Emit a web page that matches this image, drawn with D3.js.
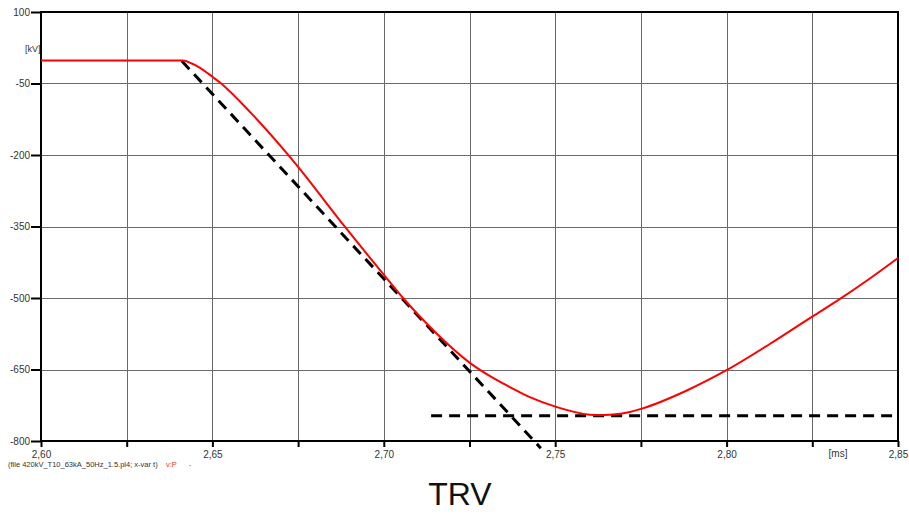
<!DOCTYPE html>
<html>
<head>
<meta charset="utf-8">
<script src="https://cdn.jsdelivr.net/npm/d3@7"></script>
<style>
  body { margin: 0; background: #fff; }
  svg { display: block; font-family: "Liberation Sans", Arial, sans-serif; }
</style>
</head>
<body>
<div id="chart"></div>
<script>
// ===== TRV PLOT =====

// time axis [ms] and voltage [kV]
const xTicks = [2.600, 2.625, 2.650, 2.675, 2.700, 2.725, 2.750, 2.775, 2.800, 2.825, 2.850];
const xLabels = ['2,60', '', '2,65', '', '2,70', '', '2,75', '', '2,80', '', '2,85'];
const yTicks = [100, -50, -200, -350, -500, -650, -800];

// v:P trace
const trvTime = [2.6000, 2.6200, 2.6414, 2.6440, 2.6464, 2.6502, 2.6522, 2.6610, 2.6726, 2.6750,
  2.6887, 2.7001, 2.7056, 2.7135, 2.7251, 2.7310, 2.7368, 2.7426, 2.7505, 2.7601, 2.7631,
  2.7660, 2.7718, 2.7753, 2.7884, 2.8001, 2.8127, 2.8252, 2.8322, 2.8418, 2.8500];
const trvVolt = [-2, -2, -2, -8, -17, -37, -48, -110, -204, -225,
  -351, -452, -500, -561, -636, -664, -687, -708, -729, -745, -746,
  -745, -739, -732, -694, -651, -596, -538, -506, -459, -416];

// dashed construction lines
const tangentTime = [2.6411, 2.7458];
const tangentVolt = [-3, -815];
const peakTime = [2.7138, 2.8500];
const peakVolt = [-747, -747];

const W = 909, H = 519;
const margin = { left: 41, top: 12, right: 11, bottom: 78 };
const plotW = W - margin.left - margin.right;
const plotH = H - margin.top - margin.bottom;

const svg = d3.select('#chart').append('svg')
  .attr('width', W)
  .attr('height', H);

const x = d3.scaleLinear().domain([2.60, 2.85]).range([margin.left, margin.left + plotW]);
const y = d3.scaleLinear().domain([-800, 100]).range([margin.top + plotH, margin.top]);

// grid
const grid = svg.append('g');
grid.selectAll('line.v')
  .data(xTicks.slice(1, -1))
  .join('line')
  .attr('x1', d => Math.round(x(d)) + 0.5).attr('x2', d => Math.round(x(d)) + 0.5)
  .attr('y1', y(100)).attr('y2', y(-800))
  .attr('stroke', '#6a6a6a').attr('stroke-width', 1);
grid.selectAll('line.h')
  .data(yTicks.slice(1, -1))
  .join('line')
  .attr('x1', x(2.60)).attr('x2', x(2.85))
  .attr('y1', d => Math.round(y(d)) + 0.5).attr('y2', d => Math.round(y(d)) + 0.5)
  .attr('stroke', '#6a6a6a').attr('stroke-width', 1);

// frame
svg.append('rect')
  .attr('x', x(2.60)).attr('y', y(100))
  .attr('width', plotW).attr('height', plotH)
  .attr('fill', 'none').attr('stroke', '#000').attr('stroke-width', 2);

// axes
const yAxis = svg.append('g')
  .attr('transform', `translate(${x(2.60)},0)`)
  .call(d3.axisLeft(y).tickValues(yTicks).tickSize(10).tickPadding(1).tickFormat(d => d));
yAxis.select('.domain').remove();
yAxis.selectAll('line').attr('stroke', '#000').attr('stroke-width', 2);
yAxis.selectAll('text').attr('font-size', 10).attr('fill', '#333')
  .attr('font-family', '"Liberation Sans", Arial, sans-serif');

const xAxis = svg.append('g')
  .attr('transform', `translate(0,${y(-800)})`)
  .call(d3.axisBottom(x).tickValues(xTicks).tickSize(6).tickPadding(4)
    .tickFormat((d, i) => xLabels[i]));
xAxis.select('.domain').remove();
xAxis.selectAll('line').attr('stroke', '#000').attr('stroke-width', 2);
xAxis.selectAll('text').attr('font-size', 10).attr('fill', '#333')
  .attr('font-family', '"Liberation Sans", Arial, sans-serif');

// units
svg.append('text')
  .attr('x', 25).attr('y', 52)
  .attr('font-size', 9).attr('fill', '#333')
  .text('[kV]');
svg.append('text')
  .attr('x', 838).attr('y', 457)
  .attr('text-anchor', 'middle')
  .attr('font-size', 10).attr('fill', '#333')
  .text('[ms]');

// dashed lines
const line = d3.line().x(d => x(d[0])).y(d => y(d[1]));
svg.append('path')
  .attr('d', line(d3.zip(tangentTime, tangentVolt)))
  .attr('fill', 'none').attr('stroke', '#000')
  .attr('stroke-width', 3).attr('stroke-dasharray', '11,7');
svg.append('path')
  .attr('d', line(d3.zip(peakTime, peakVolt)))
  .attr('fill', 'none').attr('stroke', '#000')
  .attr('stroke-width', 3).attr('stroke-dasharray', '11,7');

// red trace
const curve = d3.line().x(d => x(d[0])).y(d => y(d[1])).curve(d3.curveMonotoneX);
svg.append('path')
  .attr('d', curve(d3.zip(trvTime, trvVolt)))
  .attr('fill', 'none').attr('stroke', '#ff0000')
  .attr('stroke-width', 2);

// file caption
svg.append('text')
  .attr('x', 8).attr('y', 467)
  .attr('font-size', 7.5).attr('fill', '#333')
  .text('(file 420kV_T10_63kA_50Hz_1.5.pl4; x-var t)');
svg.append('text')
  .attr('x', 166).attr('y', 467)
  .attr('font-size', 7.5).attr('fill', '#ff3030')
  .text('v:P');
svg.append('text')
  .attr('x', 189).attr('y', 467)
  .attr('font-size', 7.5).attr('fill', '#ff3030')
  .text('-');

// title
svg.append('text')
  .attr('x', 460).attr('y', 505)
  .attr('text-anchor', 'middle')
  .attr('font-size', 32).attr('fill', '#111')
  .text('TRV');
</script>
</body>
</html>
